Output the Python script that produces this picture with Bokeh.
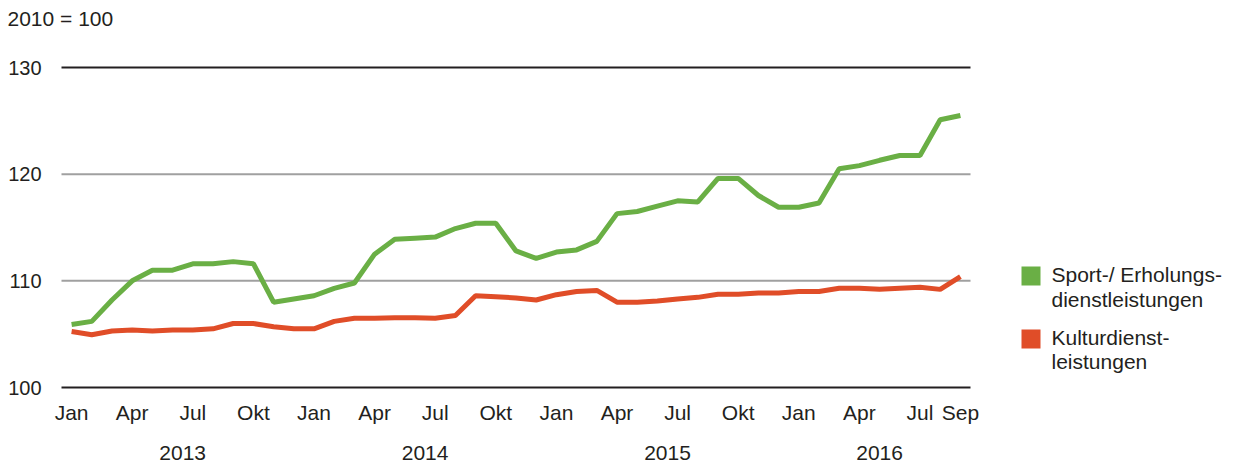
from bokeh.plotting import figure
from bokeh.models import Range1d, FixedTicker, LinearAxis
from bokeh.core.properties import value
from bokeh.embed import file_html
from bokeh.resources import INLINE

# ---- data -------------------------------------------------------------
months = ["Jan", "Feb", "Mär", "Apr", "Mai", "Jun", "Jul", "Aug", "Sep", "Okt", "Nov", "Dez"] * 3 + \
         ["Jan", "Feb", "Mär", "Apr", "Mai", "Jun", "Jul", "Aug", "Sep"]

sport = [105.9, 106.2, 108.2, 110.0, 111.0, 111.0, 111.6, 111.6, 111.8, 111.6, 108.0, 108.3,
         108.6, 109.3, 109.8, 112.5, 113.9, 114.0, 114.1, 114.9, 115.4, 115.4, 112.8, 112.1,
         112.7, 112.9, 113.7, 116.3, 116.5, 117.0, 117.5, 117.4, 119.6, 119.6, 118.0, 116.9,
         116.9, 117.3, 120.5, 120.8, 121.3, 121.75, 121.75, 125.1, 125.5]

kultur = [105.25, 104.95, 105.3, 105.4, 105.3, 105.4, 105.4, 105.5, 106.0, 106.0, 105.7, 105.5,
          105.5, 106.2, 106.5, 106.5, 106.55, 106.55, 106.5, 106.75, 108.6, 108.5, 108.4, 108.2,
          108.7, 109.0, 109.1, 108.0, 108.0, 108.1, 108.3, 108.45, 108.75, 108.75, 108.85, 108.85,
          109.0, 109.0, 109.3, 109.3, 109.2, 109.3, 109.4, 109.2, 110.4]

month_tick_labels = ["Jan", "Apr", "Jul", "Okt"] * 3 + ["Jan", "Apr", "Jul", "Sep"]
month_tick_pos = [0, 3, 6, 9, 12, 15, 18, 21, 24, 27, 30, 33, 36, 39, 42, 44]
years = ["2013", "2014", "2015", "2016"]
year_pos = [5.5, 17.5, 29.5, 40]
y_ticks = [100, 110, 120, 130]
y_tick_labels = [str(v) for v in y_ticks]
title_text = "2010 = 100"
series_names = ["Sport-/ Erholungs-\ndienstleistungen", "Kulturdienst-\nleistungen"]
series_colors = ["#6aaf45", "#e04d28"]

TXT = "#231f20"
GRID = "#a0a0a0"
FONT = "Liberation Sans"

# ---- layout (pixels) ----------------------------------------------------
W, H = 1226, 464
DATA_LEFT = 61          # left edge of the data area inside the frame
DATA_TOP = 67           # y of the top gridline
DATA_BOTTOM = 387       # y of the bottom gridline
PAD_BELOW = 13          # frame continues a little below the bottom gridline
FRAME_H = DATA_BOTTOM + PAD_BELOW
B_BOTTOM = H - FRAME_H
PPX = 20.2                               # pixels per month
PPY = (DATA_BOTTOM - DATA_TOP) / (y_ticks[-1] - y_ticks[0])

x = list(range(len(months)))
x_lo, x_hi = -0.5, len(months) - 0.5      # extent of the data area
x_view_lo = x_lo - DATA_LEFT / PPX
x_view_hi = x_view_lo + W / PPX
y_lo, y_hi = y_ticks[0], y_ticks[-1]
y_view_lo = y_lo - PAD_BELOW / PPY
y_view_hi = y_lo + DATA_BOTTOM / PPY

p = figure(width=W, height=H, x_range=Range1d(x_view_lo, x_view_hi),
           y_range=Range1d(y_view_lo, y_view_hi),
           output_backend="svg", toolbar_location=None,
           min_border_left=0, min_border_right=0, min_border_top=0,
           min_border_bottom=B_BOTTOM)
p.outline_line_color = None
p.background_fill_color = "white"
p.border_fill_color = "white"
p.grid.visible = False
p.yaxis.visible = False

# horizontal reference lines, only across the data area
line_cols = [TXT if v in (y_lo, y_hi) else GRID for v in y_ticks]
p.segment(x0=[x_lo] * len(y_ticks), x1=[x_hi] * len(y_ticks), y0=y_ticks, y1=y_ticks,
          line_color=line_cols, line_width=2)

# y tick labels and unit note
p.text(x=[x_lo] * len(y_ticks), y=y_ticks, text=y_tick_labels, x_offset=-20,
       text_font=value(FONT), text_font_size="20px", text_color=TXT,
       text_align="right", text_baseline="middle")
p.text(x=[x_lo], y=[y_hi], text=[title_text], x_offset=-54, y_offset=-49,
       text_font=value(FONT), text_font_size="21px", text_color=TXT,
       text_align="left", text_baseline="middle")


def style_axis(ax, standoff):
    ax.axis_line_color = None
    ax.major_tick_line_color = None
    ax.minor_tick_line_color = None
    ax.major_tick_out = 0
    ax.minor_tick_out = 0
    ax.major_tick_in = 0
    ax.minor_tick_in = 0
    ax.major_label_standoff = standoff
    ax.major_label_text_font = FONT
    ax.major_label_text_font_size = "21px"
    ax.major_label_text_color = TXT


xa = p.xaxis[0]
xa.ticker = FixedTicker(ticks=month_tick_pos)
xa.major_label_overrides = {t: l for t, l in zip(month_tick_pos, month_tick_labels)}
style_axis(xa, 0)

xa2 = LinearAxis(ticker=FixedTicker(ticks=year_pos),
                 major_label_overrides={t: l for t, l in zip(year_pos, years)})
style_axis(xa2, 19)
p.add_layout(xa2, "below")

# series lines
for vals, col in zip([sport, kultur], series_colors):
    p.line(x, vals, line_color=col, line_width=5)

# legend, drawn to the right of the data area
# (offsets in px from the data area's bottom-right corner; negative = up)
SW_DX, TXT_DX = 60.5, 81
SW_DY = [-111.5, -48.5]                  # swatch centres
LINE_DY = [[-113, -88.5], [-50.5, -26]]  # text line centres
for i, (name, col) in enumerate(zip(series_names, series_colors)):
    p.rect(x=[x_hi + SW_DX / PPX], y=[y_lo - SW_DY[i] / PPY], width=19, height=19,
           width_units="screen", height_units="screen", fill_color=col, line_color=None)
    lines = name.split("\n")
    p.text(x=[x_hi] * len(lines), y=[y_lo] * len(lines), text=lines,
           x_offset=TXT_DX, y_offset=LINE_DY[i],
           text_font=value(FONT), text_font_size="21px", text_color=TXT,
           text_align="left", text_baseline="middle")

open("out.html", "w").write(file_html(p, INLINE))
